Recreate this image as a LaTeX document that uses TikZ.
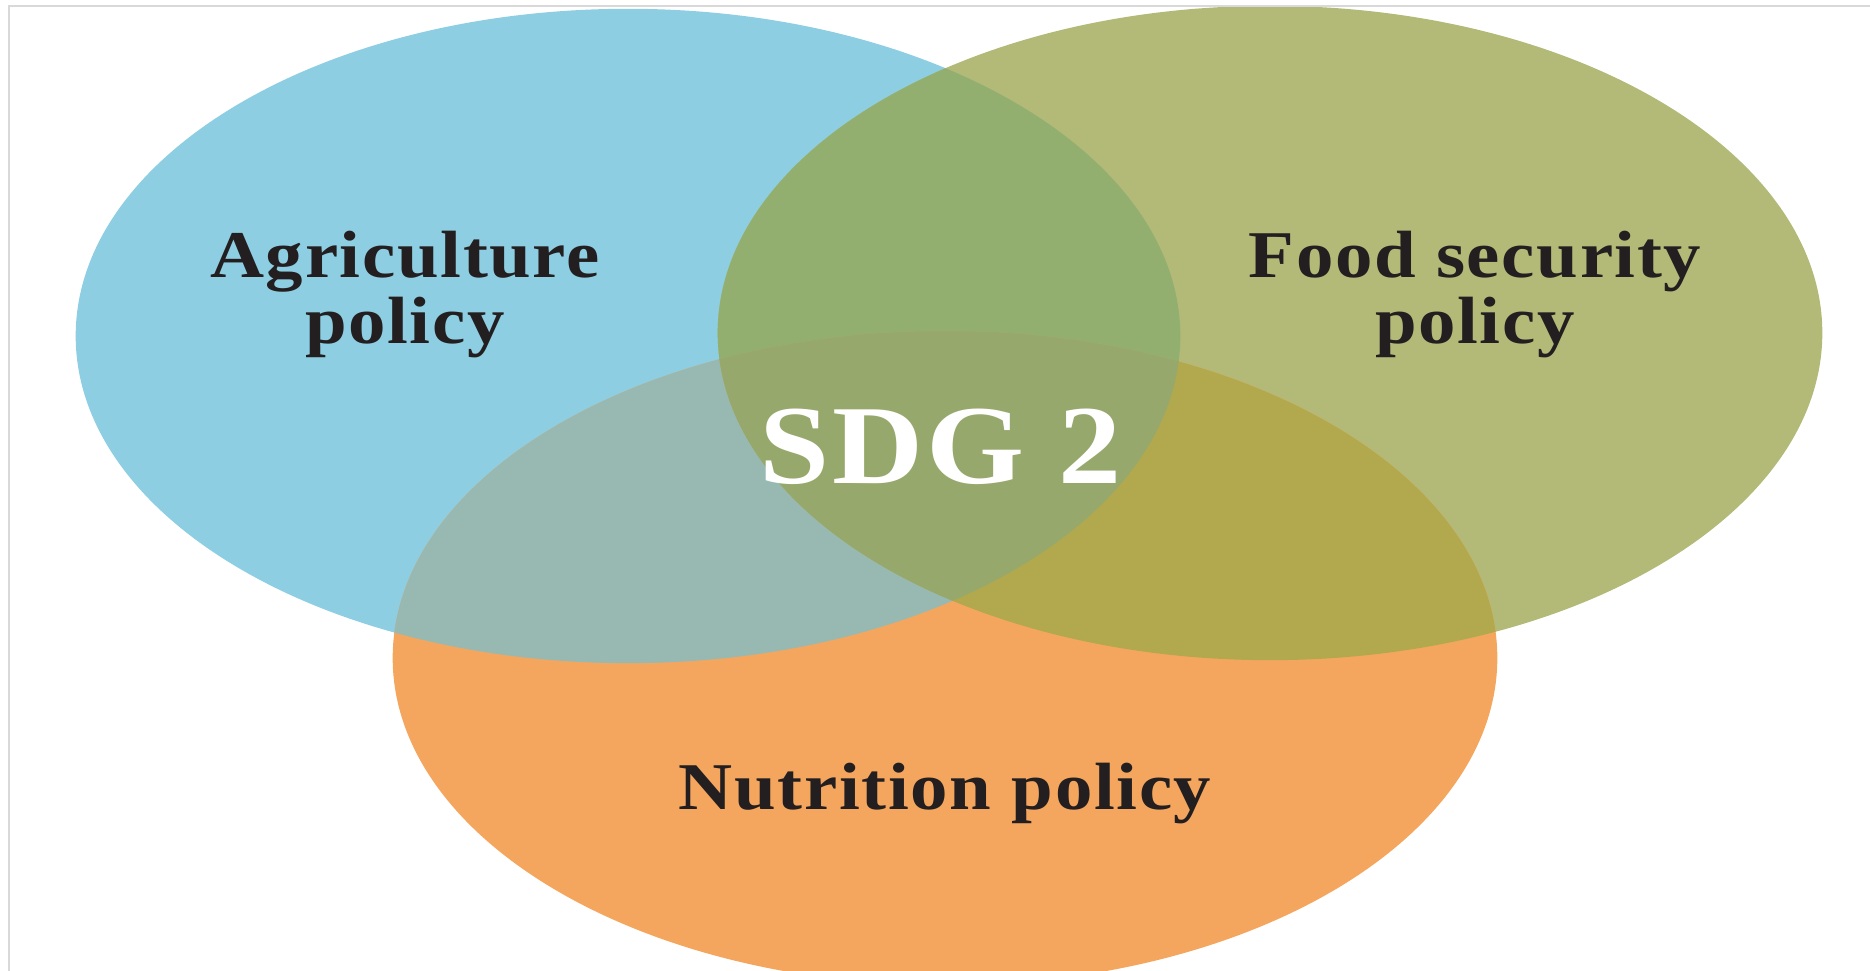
\documentclass[tikz,border=0pt]{standalone}
\usepackage{fontspec}
\setmainfont{Liberation Serif}
\newfontfamily\vennfont[LetterSpace=2.5,FakeStretch=1.12]{Liberation Serif}
\usepackage{tikz}
\usetikzlibrary{positioning}

\definecolor{agriblue}{HTML}{8DCEE2}
\definecolor{foodgreen}{HTML}{B3BA78}
\definecolor{nutriorange}{HTML}{F5A65E}
\definecolor{agrifood}{HTML}{93AF70}
\definecolor{agrinutri}{HTML}{97B9B1}
\definecolor{foodnutri}{HTML}{B2A84E}
\definecolor{allthree}{HTML}{96A86B}
\definecolor{textdark}{HTML}{231F20}
\definecolor{framegray}{HTML}{D9D9D9}

\begin{document}
\begin{tikzpicture}[
x=0.01cm, y=-0.01cm,
ring/.style={x radius=5.52cm, y radius=3.27cm},
policy/.style={font=\vennfont\bfseries\fontsize{19}{18.8}\selectfont, text=textdark, align=center, inner sep=0pt, anchor=base},
goal/.style={font=\vennfont\bfseries\fontsize{32}{36}\selectfont, text=white, inner sep=0pt, anchor=base},
frame/.style={draw=framegray, line width=0.4pt}
]
    \useasboundingbox (0,0) rectangle (1870,971);

    % Centres of the three sets
    \coordinate (agri) at (628,336);
    \coordinate (food) at (1270,333);
    \coordinate (nutri) at (945,658);

    % Plain sets
    \fill [draw=none, fill=agriblue] (agri) ellipse [ring];
    \fill [draw=none, fill=foodgreen] (food) ellipse [ring];
    \fill [draw=none, fill=nutriorange] (nutri) ellipse [ring];

    % Pairwise overlaps
    \begin{scope}
      \clip (agri) ellipse [ring];
      \fill [draw=none, fill=agrifood] (food) ellipse [ring];
      \fill [draw=none, fill=agrinutri] (nutri) ellipse [ring];
    \end{scope}
    \begin{scope}
      \clip (food) ellipse [ring];
      \fill [draw=none, fill=foodnutri] (nutri) ellipse [ring];
    \end{scope}

    % Centre overlap
    \begin{scope}
      \clip (agri) ellipse [ring];
      \clip (food) ellipse [ring];
      \fill [draw=none, fill=allthree] (nutri) ellipse [ring];
    \end{scope}

    % Frame of the crop
    \draw [frame] (1870,6) -| (9,971);

    % Labels (base = last line)
    \node [policy] (agritext) at (405,344) {Agriculture\\policy};
    \node [policy] (foodtext) at (1475,344) {Food security\\policy};
    \node [policy] (nutritext) at (945,810) {Nutrition policy};
    \node [goal] (sdg) at (941,484) {SDG 2};
\end{tikzpicture}
\end{document}
